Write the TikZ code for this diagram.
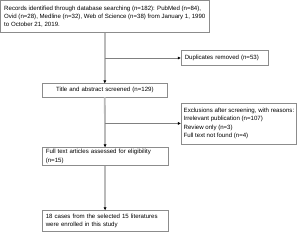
\documentclass[tikz,border=0pt]{standalone}
\usepackage{fontspec}
\setmainfont{Liberation Sans}
\usetikzlibrary{positioning,arrows.meta}

\tikzset{
	flowbox/.style={draw=black!45, line width=0.6pt, inner xsep=3.5pt, inner ysep=2pt,
		align=left, font=\fontsize{6.1}{8.4}\selectfont},
	spine/.style={draw=black!27, line width=1.8pt},
	spinearrow/.style={spine, -{Latex[black, length=3.2pt, width=3.2pt]}, shorten >=-0.3pt},
	sidearrow/.style={draw=black!50, line width=0.6pt, -{Latex[black, length=3.2pt, width=3.2pt]}},
}

\begin{document}
\begin{tikzpicture}[x=1pt, y=1pt]
	\useasboundingbox (0,0) rectangle (300,-231);
	% 1. records box at the top left (lines kept as set, no wrapping)
	\node [flowbox, anchor=north west, minimum width=208.4pt, minimum height=32pt, inner xsep=2pt] (rec) at (0.3,-0.3)
		{Records identified through database searching (n=182): PubMed (n=84),\\
		 Ovid (n=28), Medline (n=32), Web of Science (n=38) from January 1, 1990\\
		 to October 21, 2019.};
	
	% 2. main column, relative to the records box
	\node [flowbox, below=50.4pt of rec.south west, anchor=north west, xshift=41.7pt,
		text width=118pt, minimum height=13.3pt, align=center] (title)
		{Title and abstract screened (n=129)};
	\node [flowbox, below=50pt of title.south west, anchor=north west,
		text width=118.6pt, minimum height=18pt] (full)
		{Full text articles assessed for eligibility\\(n=15)};
	\node [flowbox, below=44.3pt of full.south west, anchor=north west,
		text width=118.6pt, minimum height=21pt] (final)
		{18 cases from the selected 15 literatures\\were enrolled in this study};
	
	% 3. side boxes on the right
	\node [flowbox, right=180.7pt of rec.south west, anchor=north west, yshift=-17.3pt,
		text width=80pt, minimum height=15pt] (dup)
		{Duplicates removed (n=53)};
	\node [flowbox, right=180.7pt of rec.south west, anchor=north west, yshift=-69.7pt,
		minimum width=115.3pt, minimum height=41pt, inner xsep=2pt] (excl)
		{Exclusions after screening, with reasons:\\
		 Irrelevant publication (n=107)\\
		 Review only (n=3)\\
		 Full text not found (n=4)};
	
	% 4. connectors
	\draw [spinearrow] (rec.south) -- (title.north);
	\draw [spinearrow] (title.south) -- (full.north);
	\draw [spinearrow] (full.south) -- (final.north);
	\draw [sidearrow] (rec.south |- dup.west) -- (dup.west);
	\draw [sidearrow] (title.south |- excl.west) -- (excl.west);
\end{tikzpicture}
\end{document}
